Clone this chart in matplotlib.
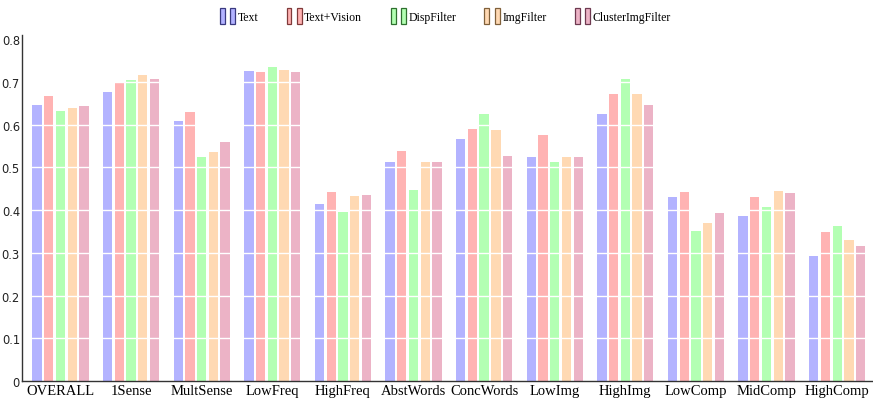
import numpy as np
import matplotlib.pyplot as plt
from matplotlib.patches import Rectangle
from matplotlib.legend_handler import HandlerBase

# categorieen en reeksen
categories = ['OVERALL', '1Sense', 'MultSense', 'LowFreq', 'HighFreq', 'AbstWords',
              'ConcWords', 'LowImg', 'HighImg', 'LowComp', 'MidComp', 'HighComp']
series_names = ['Text', 'Text+Vision', 'DispFilter', 'ImgFilter', 'ClusterImgFilter']

text = [0.645, 0.677, 0.609, 0.725, 0.414, 0.512, 0.566, 0.525, 0.624, 0.430, 0.386, 0.292]
text_vision = [0.668, 0.697, 0.629, 0.723, 0.443, 0.539, 0.589, 0.575, 0.672, 0.443, 0.430, 0.348]
disp_filter = [0.632, 0.704, 0.524, 0.735, 0.395, 0.448, 0.624, 0.512, 0.706, 0.351, 0.407, 0.362]
img_filter = [0.639, 0.716, 0.535, 0.727, 0.434, 0.512, 0.588, 0.525, 0.671, 0.369, 0.445, 0.330]
cluster_img_filter = [0.643, 0.707, 0.559, 0.724, 0.436, 0.512, 0.526, 0.525, 0.647, 0.394, 0.439, 0.315]

yticks = [0, 0.1, 0.2, 0.3, 0.4, 0.5, 0.6, 0.7, 0.8]
ytick_labels = ['0', '0.1', '0.2', '0.3', '0.4', '0.5', '0.6', '0.7', '0.8']

# kleuren (vulling en rand)
fills = ['#b3b3ff', '#ffb3b3', '#b3ffb3', '#ffd9b3', '#ecb3c6']
edges = ['#3a3a80', '#803a3a', '#2f702f', '#80603a', '#6e3a50']


class TwoBars(HandlerBase):
    "Legend handle met twee smalle staafjes."
    def create_artists(self, legend, orig_handle, xdescent, ydescent,
                       width, height, fontsize, trans):
        w = width * 0.3
        arts = []
        for x0 in (0, width * 0.62):
            r = Rectangle((x0 - xdescent, -ydescent - height * 0.45), w, height * 1.9,
                          facecolor=orig_handle.get_facecolor(),
                          edgecolor=orig_handle.get_edgecolor(), lw=0.9,
                          transform=trans)
            arts.append(r)
        return arts


data = [text, text_vision, disp_filter, img_filter, cluster_img_filter]

fig = plt.figure(figsize=(8.73, 4.02), dpi=100)
ax = fig.add_axes([0.0252, 0.0498, 0.975, 0.861])

x = np.arange(len(categories))
pitch = 0.166
handles = []
for i, vals in enumerate(data):
    ax.bar(x + (i - 2) * pitch, vals, width=0.132, color=fills[i], zorder=1)
    handles.append(Rectangle((0, 0), 1, 1, facecolor=fills[i], edgecolor=edges[i]))

for y in yticks[1:]:
    ax.axhline(y, color='white', lw=1.0, zorder=2)

ax.set_xlim(-0.545, 11.51)
ax.set_ylim(0, 0.81)
ax.set_yticks(yticks)
ax.set_yticklabels(ytick_labels, fontsize=8.3, family='DejaVu Sans', color='#222222')
ax.set_xticks(x)
ax.set_xticklabels(categories, fontsize=10.5, family='Liberation Serif')
ax.tick_params(axis='y', length=0, pad=1.5)
ax.tick_params(axis='x', length=0, pad=2)
for s in ['top', 'right']:
    ax.spines[s].set_visible(False)
for s in ['left', 'bottom']:
    ax.spines[s].set_linewidth(1.0)
    ax.spines[s].set_color('#333333')

leg = fig.legend(handles, series_names, loc='upper center', bbox_to_anchor=(0.51, 1.0),
                 ncol=5, frameon=False, handler_map={Rectangle: TwoBars()},
                 prop={'family': 'Liberation Serif', 'size': 8.5},
                 handlelength=1.4, handletextpad=0.1, columnspacing=2.4,
                 borderaxespad=0.6)

fig.savefig('out.png', dpi=100)
